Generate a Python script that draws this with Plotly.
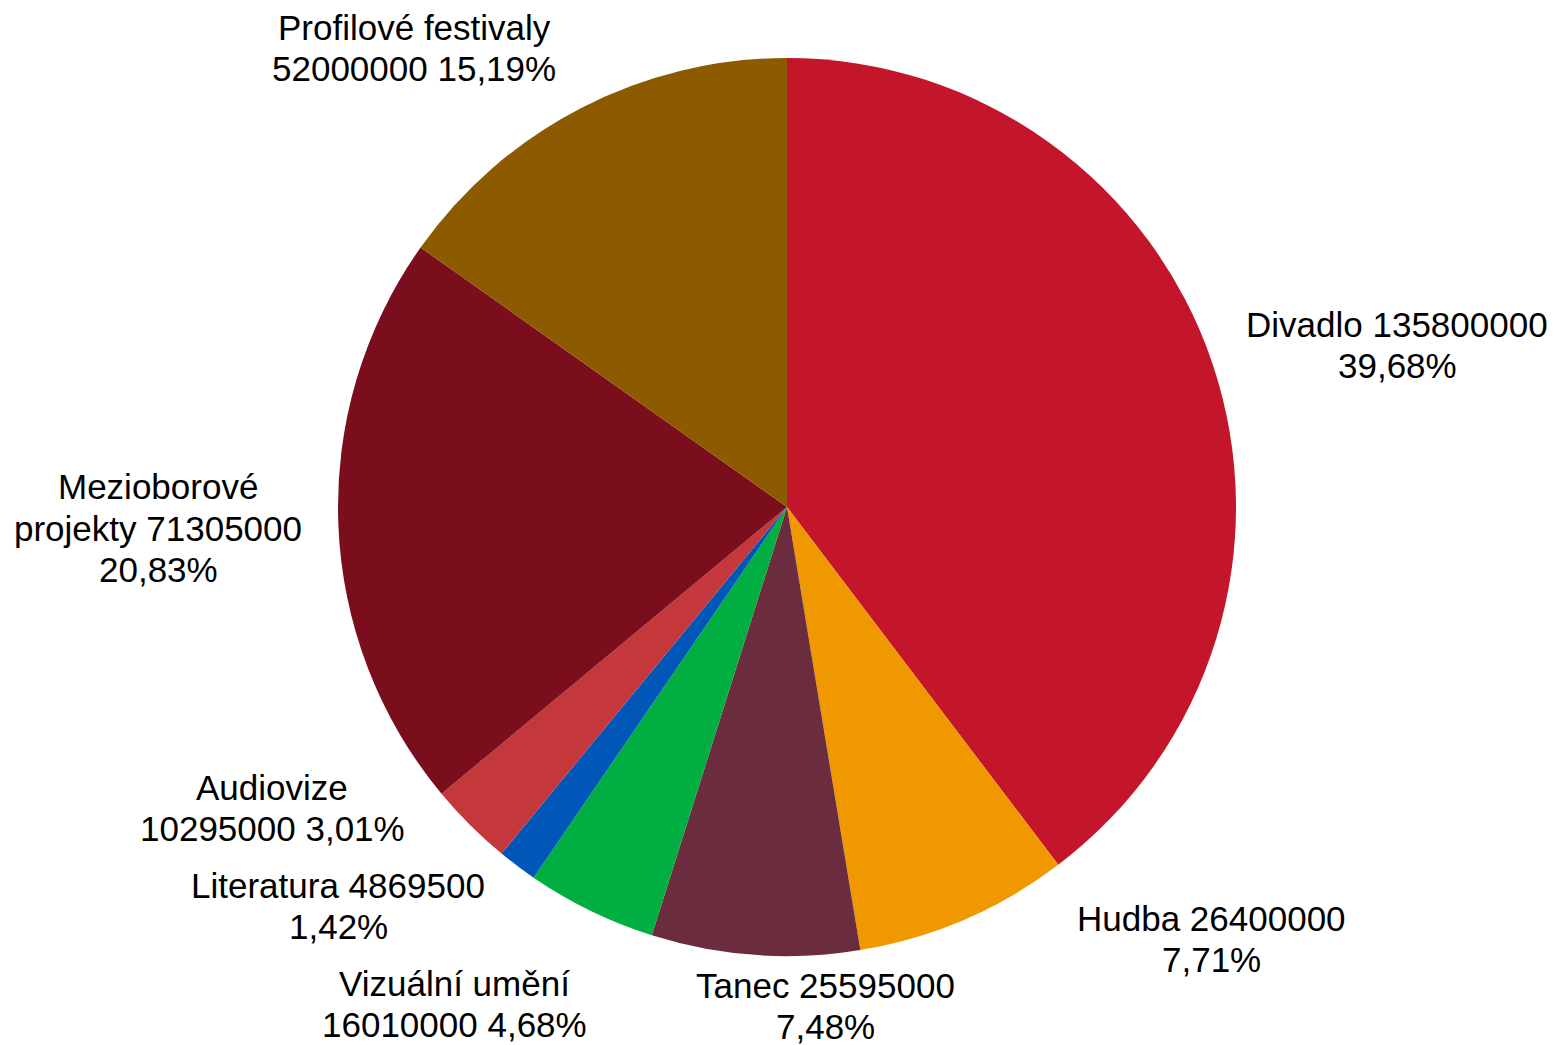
import plotly.graph_objects as go

categories = ["Divadlo", "Hudba", "Tanec", "Vizuální umění", "Literatura",
              "Audiovize", "Mezioborové projekty", "Profilové festivaly"]
values = [135800000, 26400000, 25595000, 16010000, 4869500,
          10295000, 71305000, 52000000]
colors = ["#C4162A", "#F09800", "#6B2C3E", "#00AE41", "#0057B8",
          "#C4373A", "#7A0E1C", "#8E5A00"]

# how each label wraps, and label block centre positions (px)
label_breaks = {
    "Divadlo": "{n} {v}|{p}",
    "Hudba": "{n} {v}|{p}",
    "Tanec": "{n} {v}|{p}",
    "Vizuální umění": "{n}|{v} {p}",
    "Literatura": "{n} {v}|{p}",
    "Audiovize": "{n}|{v} {p}",
    "Mezioborové projekty": "Mezioborové|projekty {v}|{p}",
    "Profilové festivaly": "{n}|{v} {p}",
}
label_pos = {
    "Divadlo": (1397, 345),
    "Hudba": (1211, 939),
    "Tanec": (825, 1006),
    "Vizuální umění": (454, 1004),
    "Literatura": (338, 906),
    "Audiovize": (272, 808),
    "Mezioborové projekty": (158, 528),
    "Profilové festivaly": (414, 48),
}
LINE = 41.5
FONT = dict(family="Liberation Sans, Arial, sans-serif", size=35, color="#000000")

W, H = 1554, 1045
cx, cy, r = 787, 507, 449

total = sum(values)
fig = go.Figure(go.Pie(
    labels=categories, values=values, sort=False, direction="clockwise",
    rotation=0, marker=dict(colors=colors, line=dict(width=0)),
    textinfo="none", hoverinfo="label+value+percent", showlegend=False,
    domain=dict(x=[(cx - r) / W, (cx + r) / W],
                y=[(H - cy - r) / H, (H - cy + r) / H]),
))

annotations = []
for n, v in zip(categories, values):
    p = f"{100 * v / total:.2f}".replace(".", ",") + "%"
    lines = label_breaks[n].format(n=n, v=v, p=p).split("|")
    px, py = label_pos[n]
    k = len(lines)
    for i, line in enumerate(lines):
        ly = py + (i - (k - 1) / 2) * LINE
        annotations.append(dict(
            x=px / W, y=1 - ly / H, xref="paper", yref="paper",
            text=line, showarrow=False, xanchor="center", yanchor="middle",
            align="center", font=FONT,
        ))

fig.update_layout(
    width=W, height=H, margin=dict(l=0, r=0, t=0, b=0),
    paper_bgcolor="white", plot_bgcolor="white",
    annotations=annotations,
)

fig.write_html("out.html", config={"displayModeBar": False},
               post_script="document.body.style.margin='0';")
